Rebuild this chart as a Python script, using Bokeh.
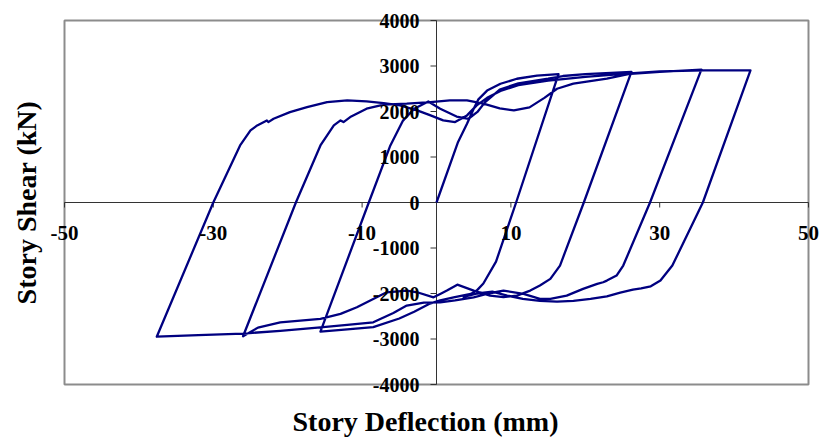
import math
from bokeh.plotting import figure
from bokeh.models import Label, LabelSet, ColumnDataSource
from bokeh.core.properties import value
from bokeh.embed import file_html
from bokeh.resources import INLINE

# ---------------- data: story deflection (mm) / story shear (kN) ----------------
# initial loading to first positive peak
seg0_defl = [0.0, 2.9, 4.1, 5.0, 5.6, 6.8, 8.6, 10.8, 13.5, 16.4]
seg0_shear = [0, 1330, 1730, 2060, 2260, 2460, 2610, 2720, 2790, 2820]
# unloading 1 -> negative peak 1
seg1_defl = [16.4, 10.7, 8.0, 6.3, 5.4, 4.6, 2.3, 0.5, -1.0, -3.0, -5.0, -8.5, -12.0, -15.6]
seg1_shear = [2820, 0, -1300, -1780, -1936, -2010, -2083, -2150, -2230, -2400, -2550, -2740, -2790, -2840]
# reloading -> positive peak 2
seg2_defl = [-15.6, -9.1, -6.2, -4.5, -3.0, -1.1, 0.5, 2.7, 4.3, 5.5, 6.5, 8.5, 11.0, 15.0, 17.0, 20.0, 26.2]
seg2_shear = [-2840, 0, 1254, 1800, 2060, 2222, 2061, 1890, 1840, 1990, 2200, 2480, 2620, 2720, 2780, 2820, 2870]
# unloading -> negative peak 2
seg3_defl = [26.2, 19.8, 16.6, 15.3, 13.9, 12.6, 10.8, 9.0, 7.2, 5.0, 2.8, 1.4, 0.5, -0.4, -2.6, -4.0,
             -6.7, -8.5, -10.7, -12.9, -15.6, -21.0, -24.0, -26.0]
seg3_shear = [2870, 0, -1386, -1679, -1826, -1936, -2046, -2080, -2046, -1936, -1806, -1936, -2009, -2083,
              -1973, -1936, -1973, -2119, -2303, -2449, -2559, -2633, -2750, -2940]
# reloading -> positive peak 3
seg4_defl = [-26.0, -18.9, -15.6, -13.8, -12.9, -12.5, -11.6, -9.4, -7.1, -4.0, -0.8, 1.8, 4.1, 6.3, 8.5,
             10.4, 12.5, 14.5, 16.2, 18.4, 22.9, 26.1, 30.0, 35.6]
seg4_shear = [-2940, 0, 1254, 1694, 1804, 1767, 1877, 2061, 2149, 2171, 2207, 2244, 2244, 2171, 2070,
              2024, 2090, 2300, 2500, 2611, 2721, 2830, 2870, 2920]
# unloading -> negative peak 3
seg5_defl = [35.6, 28.7, 25.1, 24.2, 22.9, 22.4, 21.6, 19.7, 17.5, 15.3, 13.9, 11.7, 9.0, 7.0, 5.0, 2.5,
             0.5, -1.7, -4.0, -5.8, -8.5, -12.0, -15.6, -21.0, -26.0, -32.0, -37.6]
seg5_shear = [2920, 0, -1386, -1606, -1716, -1753, -1789, -1899, -2046, -2119, -2119, -2009, -1936, -2000,
              -2083, -2150, -2193, -2200, -2266, -2427, -2633, -2691, -2743, -2820, -2880, -2915, -2950]
# reloading -> positive peak 4
seg6_defl = [-37.6, -30.0, -26.4, -25.0, -24.1, -22.8, -22.6, -21.9, -19.7, -17.4, -14.7, -12.0, -9.4,
             -7.1, -4.9, -2.6, -0.8, 0.9, 2.5, 4.1, 5.4, 6.8, 8.6, 11.0, 15.0, 20.0, 26.0, 30.0, 36.0, 42.2]
seg6_shear = [-2950, 0, 1254, 1584, 1694, 1804, 1767, 1841, 1987, 2097, 2207, 2244, 2222,
              2185, 2134, 2024, 1914, 1804, 1767, 1914, 2134, 2300, 2450, 2580, 2680, 2760, 2840, 2880, 2905, 2904]
# final unloading
seg7_defl = [42.2, 35.8, 31.7, 30.1, 28.8, 27.5, 26.4, 24.7, 22.9, 20.7, 18.4, 16.2, 13.9, 11.6, 9.5,
             7.5, 5.5, 3.5]
seg7_shear = [2904, 0, -1386, -1716, -1841, -1885, -1914, -1980, -2061, -2119, -2163, -2178, -2163,
              -2119, -2046, -1960, -2000, -2080]

x_ticks = [-50, -30, -10, 10, 30, 50]
x_tick_labels = ["-50", "-30", "-10", "10", "30", "50"]
y_ticks = [4000, 3000, 2000, 1000, 0, -1000, -2000, -3000, -4000]
y_tick_labels = ["4000", "3000", "2000", "1000", "0", "-1000", "-2000", "-3000", "-4000"]

x_title = "Story Deflection (mm)"
y_title = "Story Shear (kN)"

# ---------------- layout ----------------
X_LIM = (-50, 50)          # plot-area limits
Y_LIM = (-4000, 4000)
W, H = 822, 442            # figure size
AREA_LEFT, AREA_TOP = 64, 20          # plot-area position inside the figure (px)
AREA_W, AREA_H = 744, 364             # plot-area size (px)
px_x = AREA_W / (X_LIM[1] - X_LIM[0])
px_y = AREA_H / (Y_LIM[1] - Y_LIM[0])
x_start = X_LIM[0] - AREA_LEFT / px_x
y_end = Y_LIM[1] + AREA_TOP / px_y

FONT = "Liberation Serif"
CURVE = "#000080"
AXIS = "#333333"
BORDER = "#8c8c8c"

p = figure(width=W, height=H,
           x_range=(x_start, x_start + W / px_x), y_range=(y_end - H / px_y, y_end),
           x_axis_type=None, y_axis_type=None,
           output_backend="svg", toolbar_location=None,
           min_border=0)
p.outline_line_color = None
p.background_fill_color = "white"
p.border_fill_color = "white"

# plot-area border
p.quad(left=[X_LIM[0]], right=[X_LIM[1]], bottom=[Y_LIM[0]], top=[Y_LIM[1]],
       fill_color=None, line_color=BORDER, line_width=2)

# axes crossing at the origin
p.segment(x0=[X_LIM[0], 0], y0=[0, Y_LIM[0]], x1=[X_LIM[1], 0], y1=[0, Y_LIM[1]],
          line_color=AXIS, line_width=1)
ytick_len = 6 / px_x
xtick_len = 5 / px_y
p.segment(x0=[0] * len(y_ticks), y0=y_ticks, x1=[-ytick_len] * len(y_ticks), y1=y_ticks,
          line_color=AXIS, line_width=1)
p.segment(x0=x_ticks, y0=[0] * len(x_ticks), x1=x_ticks, y1=[-xtick_len] * len(x_ticks),
          line_color=AXIS, line_width=1)

# hysteresis curve
segs = [(seg0_defl, seg0_shear), (seg1_defl, seg1_shear), (seg2_defl, seg2_shear),
        (seg3_defl, seg3_shear), (seg4_defl, seg4_shear), (seg5_defl, seg5_shear),
        (seg6_defl, seg6_shear), (seg7_defl, seg7_shear)]
defl, shear = [], []
for dx, sy in segs:
    defl += dx
    shear += sy
p.line(defl, shear, line_color=CURVE, line_width=2.3, line_join="round")

# tick labels
ysrc = ColumnDataSource(dict(x=[0] * len(y_ticks), y=y_ticks, t=y_tick_labels))
p.add_layout(LabelSet(x="x", y="y", text="t", source=ysrc, x_offset=-17, y_offset=0,
                      text_align="right", text_baseline="middle",
                      text_font=value(FONT), text_font_style="bold", text_font_size="20px",
                      text_color="black"))
xsrc = ColumnDataSource(dict(x=x_ticks, y=[0] * len(x_ticks), t=x_tick_labels))
p.add_layout(LabelSet(x="x", y="y", text="t", source=xsrc, x_offset=0, y_offset=-37,
                      text_align="center", text_baseline="alphabetic",
                      text_font=value(FONT), text_font_style="bold", text_font_size="21px",
                      text_color="black"))

# axis titles
p.add_layout(Label(x=X_LIM[0], y=0, x_offset=-38, angle=math.pi / 2, text=y_title,
                   text_align="center", text_baseline="middle",
                   text_font=FONT, text_font_style="bold", text_font_size="28px", text_color="black"))
p.add_layout(Label(x=0, y=Y_LIM[0], x_offset=-11, y_offset=-37, text=x_title,
                   text_align="center", text_baseline="alphabetic",
                   text_font=FONT, text_font_style="bold", text_font_size="28px", text_color="black"))

open("out.html", "w").write(file_html(p, INLINE))
